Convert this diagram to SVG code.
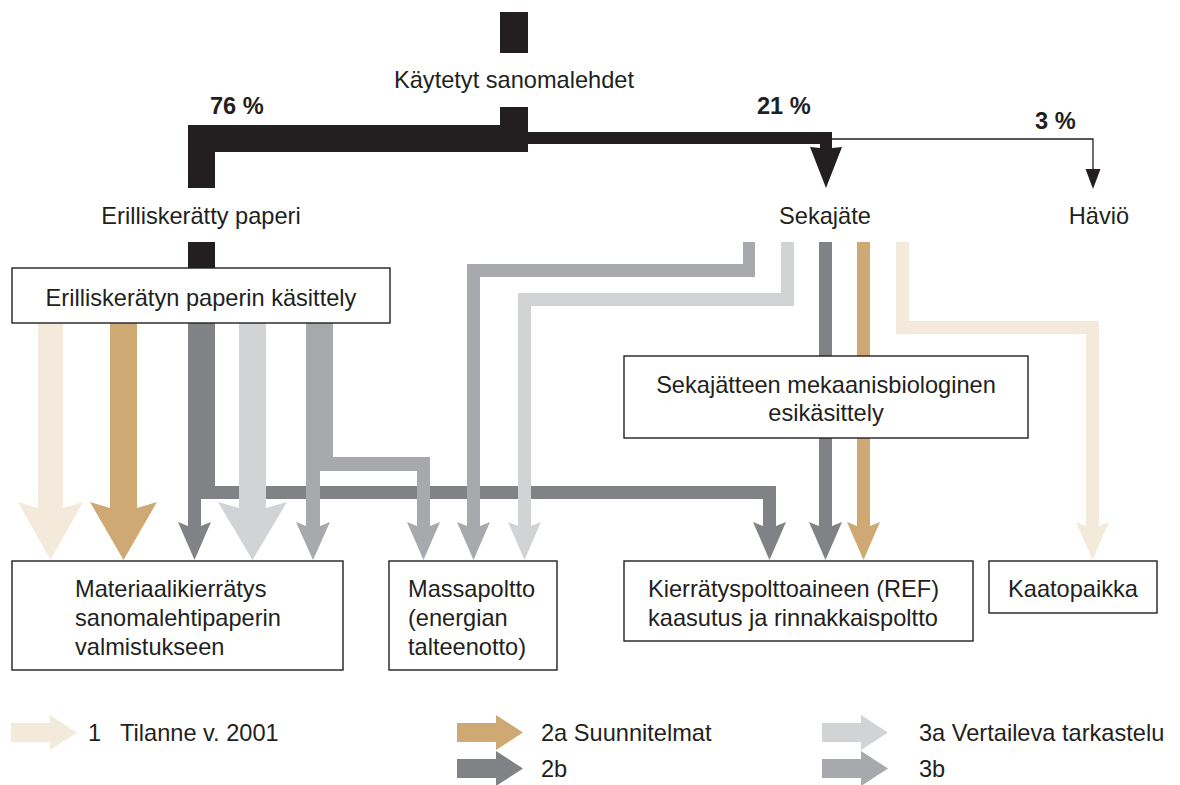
<svg xmlns="http://www.w3.org/2000/svg" width="1180" height="785" viewBox="0 0 1180 785">
  <style>
    text { font-family: "Liberation Sans", Arial, sans-serif; font-size: 23.6px; fill: #231f20; }
    .pct { font-weight: bold; }
    .mid { text-anchor: middle; }
    .box { fill: #ffffff; stroke: #231f20; stroke-width: 1.4; }
    .blk { fill: #231f20; }
    .c1 { fill: #f4eadb; }
    .c2a { fill: #cfa974; }
    .c2b { fill: #808285; }
    .c3a { fill: #d1d3d4; }
    .c3b { fill: #a7a9ac; }
  </style>

  <!-- flows -->
  <g id="connectors">
    <!-- total amount split into 76 % / 21 % / 3 % -->
    <rect class="blk" x="500" y="12" width="28" height="41"/>
    <path class="blk" d="M500,107 H528 V132 H832 V148 L842,147 L826,188 L810,147 L820,148 V144 H528 V152 H215 V188 H188 V125 H500 Z"/>
    <path d="M832,139 H1093 V172" fill="none" stroke="#231f20" stroke-width="1.3"/>
    <polygon class="blk" points="1085.5,169 1100.5,169 1093,189"/>
    <rect class="blk" x="188" y="242" width="27" height="28"/>

    <!-- from separate paper collection -->
    <path class="c2b" d="M188,323 H215 V486 H776 V526 L786,522 L769.5,560 L753,522 L763,526 V499 H201 V526 L211,522 L194.5,560 L178,522 L188,526 Z"/>
    <path class="c1" d="M38,323 H63 V508 L83,502 L50.5,560 L18,502 L38,508 Z"/>
    <path class="c2a" d="M110,323 H137 V508 L157,502 L123.5,560 L90,502 L110,508 Z"/>
    <path class="c3a" d="M239,323 H266 V508 L287,502 L252.5,560 L218,502 L239,508 Z"/>
    <path class="c3b" d="M306,323 H333 V457 H430 V526 L440,522 L423.5,560 L407,522 L417,526 V471 H320 V526 L330,522 L313,560 L296,522 L306,526 Z"/>

    <!-- from mixed waste -->
    <path class="c3b" d="M743,242 H755 V277 H480 V526 L490,522 L473.5,560 L457,522 L467,526 V264 H743 Z"/>
    <path class="c3a" d="M781,242 H794 V306 H531 V526 L541,522 L524.5,560 L508,522 L518,526 V293 H781 Z"/>
    <path class="c2b" d="M819,242 H832 V526 L842,522 L825.5,560 L809,522 L819,526 Z"/>
    <path class="c2a" d="M857,242 H870 V526 L880,522 L863.5,560 L847,522 L857,526 Z"/>
    <path class="c1" d="M896,242 H909 V321 H1099 V526 L1109,522 L1092.5,560 L1076,522 L1086,526 V334 H896 Z"/>
  </g>

  <!-- nodes -->
  <g id="kaytetyt">
    <text class="mid" x="514" y="88">Käytetyt sanomalehdet</text>
  </g>
  <g id="osuudet">
    <text class="pct" x="210" y="114">76 %</text>
    <text class="pct" x="757" y="114">21 %</text>
    <text class="pct" x="1035" y="129">3 %</text>
  </g>
  <g id="erilliskeratty">
    <text class="mid" x="201" y="224">Erilliskerätty paperi</text>
  </g>
  <g id="sekajate">
    <text class="mid" x="825" y="224">Sekajäte</text>
  </g>
  <g id="havio">
    <text class="mid" x="1099" y="224">Häviö</text>
  </g>
  <g id="kasittely">
    <rect class="box" x="12" y="268" width="378" height="55"/>
    <text class="mid" x="201" y="306">Erilliskerätyn paperin käsittely</text>
  </g>
  <g id="esikasittely">
    <rect class="box" x="624" y="356" width="404" height="82"/>
    <text class="mid" x="826" y="393">Sekajätteen mekaanisbiologinen</text>
    <text class="mid" x="826" y="421">esikäsittely</text>
  </g>
  <g id="materiaali">
    <rect class="box" x="12" y="561" width="331" height="109"/>
    <text x="75" y="597">Materiaalikierrätys</text>
    <text x="75" y="626">sanomalehtipaperin</text>
    <text x="75" y="655">valmistukseen</text>
  </g>
  <g id="massapoltto">
    <rect class="box" x="389" y="561" width="168" height="109"/>
    <text x="408" y="597">Massapoltto</text>
    <text x="408" y="626">(energian</text>
    <text x="408" y="655">talteenotto)</text>
  </g>
  <g id="ref">
    <rect class="box" x="624" y="561" width="349" height="80"/>
    <text x="648" y="597">Kierrätyspolttoaineen (REF)</text>
    <text x="648" y="626">kaasutus ja rinnakkaispoltto</text>
  </g>
  <g id="kaatopaikka">
    <rect class="box" x="989" y="561" width="168" height="52"/>
    <text class="mid" x="1073" y="597">Kaatopaikka</text>
  </g>

  <!-- legend -->
  <g id="legend">
    <path class="c1" d="M11,723 H50 V715 L77,732.5 L50,750 V742 H11 Z"/>
    <text x="88" y="741">1</text>
    <text x="120" y="741">Tilanne v. 2001</text>
    <path class="c2a" d="M457,723 H496 V715 L523,732.5 L496,750 V742 H457 Z"/>
    <text x="541" y="741">2a Suunnitelmat</text>
    <path class="c3a" d="M822,723 H861 V715 L888,732.5 L861,750 V742 H822 Z"/>
    <text x="919" y="741">3a Vertaileva tarkastelu</text>
    <path class="c2b" d="M457,759 H496 V751 L523,768.5 L496,786 V778 H457 Z"/>
    <text x="541" y="777">2b</text>
    <path class="c3b" d="M822,759 H861 V751 L888,768.5 L861,786 V778 H822 Z"/>
    <text x="919" y="777">3b</text>
  </g>
</svg>
